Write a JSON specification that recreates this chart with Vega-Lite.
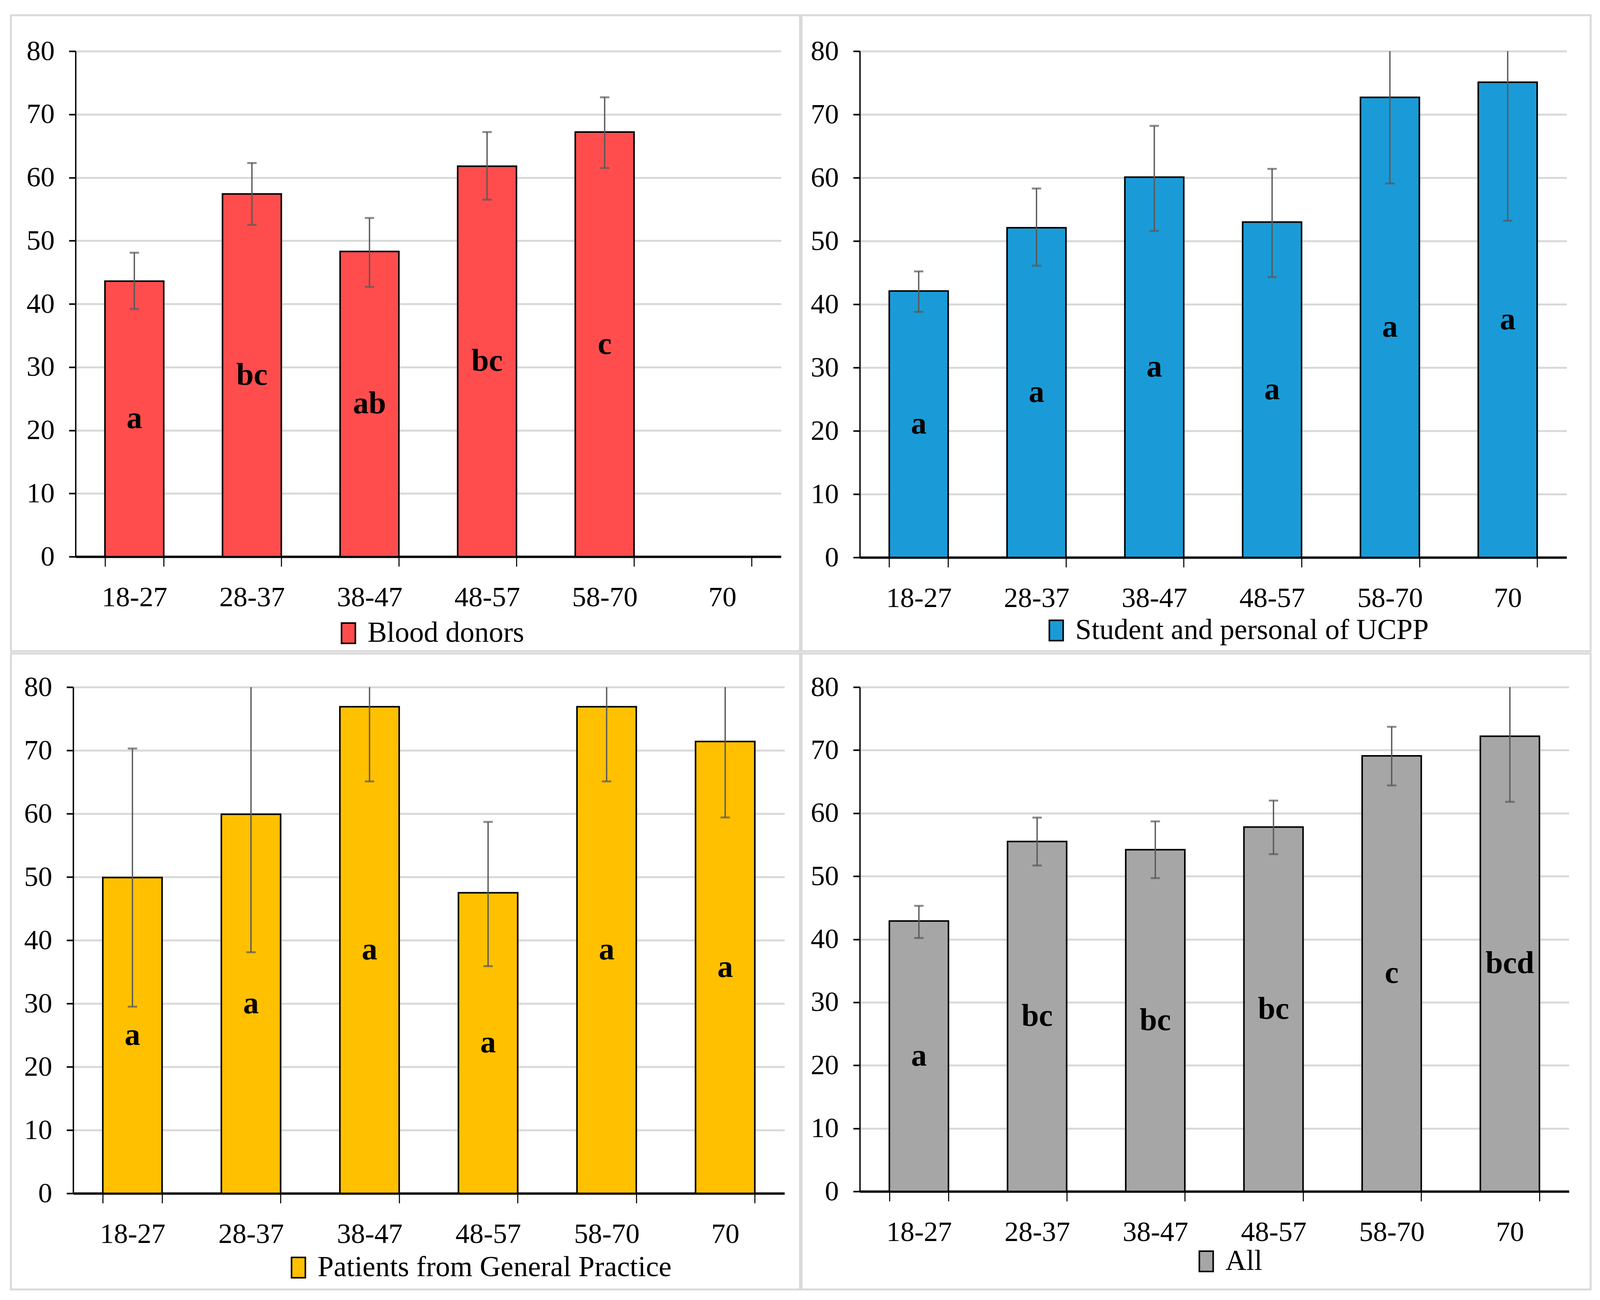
{
  "$schema": "https://vega.github.io/schema/vega-lite/v6.json",
  "background": "white",
  "padding": {"left": 25, "top": 36, "right": 0, "bottom": 0},
  "bounds": "flush",
  "spacing": {"row": 6, "column": 4},
  "columns": 2,
  "datasets": {
    "stats": [
      {"group": "Blood donors", "age": "18-27", "value": 43.6, "lo": 39.2, "hi": 48.1, "letter": "a"},
      {"group": "Blood donors", "age": "28-37", "value": 57.4, "lo": 52.5, "hi": 62.3, "letter": "bc"},
      {"group": "Blood donors", "age": "38-47", "value": 48.3, "lo": 42.7, "hi": 53.6, "letter": "ab"},
      {"group": "Blood donors", "age": "48-57", "value": 61.8, "lo": 56.5, "hi": 67.2, "letter": "bc"},
      {"group": "Blood donors", "age": "58-70", "value": 67.2, "lo": 61.5, "hi": 72.7, "letter": "c"},
      {"group": "Student and personal of UCPP", "age": "18-27", "value": 42.1, "lo": 38.8, "hi": 45.2, "letter": "a"},
      {"group": "Student and personal of UCPP", "age": "28-37", "value": 52.1, "lo": 46.1, "hi": 58.3, "letter": "a"},
      {"group": "Student and personal of UCPP", "age": "38-47", "value": 60.1, "lo": 51.6, "hi": 68.2, "letter": "a"},
      {"group": "Student and personal of UCPP", "age": "48-57", "value": 53.0, "lo": 44.3, "hi": 61.4, "letter": "a"},
      {"group": "Student and personal of UCPP", "age": "58-70", "value": 72.7, "lo": 59.1, "hi": 86.3, "letter": "a"},
      {"group": "Student and personal of UCPP", "age": "70", "value": 75.1, "lo": 53.2, "hi": 97.0, "letter": "a"},
      {"group": "Patients from General Practice", "age": "18-27", "value": 49.9, "lo": 29.5, "hi": 70.3, "letter": "a"},
      {"group": "Patients from General Practice", "age": "28-37", "value": 59.9, "lo": 38.1, "hi": 81.7, "letter": "a"},
      {"group": "Patients from General Practice", "age": "38-47", "value": 76.9, "lo": 65.1, "hi": 88.7, "letter": "a"},
      {"group": "Patients from General Practice", "age": "48-57", "value": 47.5, "lo": 35.9, "hi": 58.7, "letter": "a"},
      {"group": "Patients from General Practice", "age": "58-70", "value": 76.9, "lo": 65.1, "hi": 88.7, "letter": "a"},
      {"group": "Patients from General Practice", "age": "70", "value": 71.4, "lo": 59.4, "hi": 83.4, "letter": "a"},
      {"group": "All", "age": "18-27", "value": 42.9, "lo": 40.2, "hi": 45.3, "letter": "a"},
      {"group": "All", "age": "28-37", "value": 55.5, "lo": 51.7, "hi": 59.3, "letter": "bc"},
      {"group": "All", "age": "38-47", "value": 54.2, "lo": 49.7, "hi": 58.7, "letter": "bc"},
      {"group": "All", "age": "48-57", "value": 57.8, "lo": 53.5, "hi": 62.0, "letter": "bc"},
      {"group": "All", "age": "58-70", "value": 69.1, "lo": 64.4, "hi": 73.7, "letter": "c"},
      {"group": "All", "age": "70", "value": 72.2, "lo": 61.8, "hi": 82.6, "letter": "bcd"}
    ]
  },
  "data": {"name": "stats"},
  "concat": [
    {
      "width": 2020,
      "height": 1628,
      "transform": [{"filter": "datum.group == 'Blood donors'"}],
      "layer": [
        {
          "layer": [
            {
              "mark": {"type": "bar", "stroke": "black", "strokeWidth": 4},
              "encoding": {
                "x": {"field": "age", "type": "nominal", "sort": null,
                  "scale": {"domain": ["18-27", "28-37", "38-47", "48-57", "58-70", "70"], "range": [165.4, 1971.4], "paddingInner": 0.5, "paddingOuter": 0.25},
                  "axis": {"offset": -242}},
                "y": {"field": "value", "type": "quantitative",
                  "scale": {"domain": [0, 80], "range": [1386, 92], "nice": false, "clamp": true},
                  "axis": {"offset": -165.4, "values": [0, 10, 20, 30, 40, 50, 60, 70, 80]}},
                "color": {"datum": "Blood donors", "scale": {"range": ["#FF4D4D"]},
                  "legend": {"orient": "none", "legendX": 827, "legendY": 1545}}
              }
            },
            {
              "mark": {"type": "rule", "color": "#595959", "strokeWidth": 3.4},
              "encoding": {
                "x": {"field": "age", "type": "nominal"},
                "y": {"field": "lo", "type": "quantitative"},
                "y2": {"field": "hi"}
              }
            },
            {
              "mark": {"type": "tick", "color": "#595959", "thickness": 5, "size": 24},
              "encoding": {
                "x": {"field": "age", "type": "nominal"},
                "y": {"field": "lo", "type": "quantitative"}
              }
            },
            {
              "transform": [{"filter": "datum.hi <= 80"}],
              "mark": {"type": "tick", "color": "#595959", "thickness": 5, "size": 24},
              "encoding": {
                "x": {"field": "age", "type": "nominal"},
                "y": {"field": "hi", "type": "quantitative"}
              }
            }
          ]
        },
        {
          "mark": {"type": "text", "font": "Liberation Serif", "fontWeight": "bold", "fontSize": 80, "color": "black", "baseline": "middle"},
          "encoding": {
            "x": {"field": "age", "type": "nominal"},
            "y": {"field": "value", "type": "quantitative", "scale": {"domain": [0, 160], "range": [1386, 92], "nice": false}, "axis": null},
            "text": {"field": "letter"}
          }
        }
      ],
      "resolve": {"scale": {"y": "independent"}}
    },
    {
      "width": 2020,
      "height": 1628,
      "transform": [{"filter": "datum.group == 'Student and personal of UCPP'"}],
      "layer": [
        {
          "layer": [
            {
              "mark": {"type": "bar", "stroke": "black", "strokeWidth": 4},
              "encoding": {
                "x": {"field": "age", "type": "nominal", "sort": null,
                  "scale": {"domain": ["18-27", "28-37", "38-47", "48-57", "58-70", "70"], "range": [149.1, 1958.5], "paddingInner": 0.5, "paddingOuter": 0.25},
                  "axis": {"offset": -240}},
                "y": {"field": "value", "type": "quantitative",
                  "scale": {"domain": [0, 80], "range": [1388, 92], "nice": false, "clamp": true},
                  "axis": {"offset": -149.1, "values": [0, 10, 20, 30, 40, 50, 60, 70, 80]}},
                "color": {"datum": "Student and personal of UCPP", "scale": {"range": ["#1A9BD7"]},
                  "legend": {"orient": "none", "legendX": 615, "legendY": 1538}}
              }
            },
            {
              "mark": {"type": "rule", "color": "#595959", "strokeWidth": 3.4},
              "encoding": {
                "x": {"field": "age", "type": "nominal"},
                "y": {"field": "lo", "type": "quantitative"},
                "y2": {"field": "hi"}
              }
            },
            {
              "mark": {"type": "tick", "color": "#595959", "thickness": 5, "size": 24},
              "encoding": {
                "x": {"field": "age", "type": "nominal"},
                "y": {"field": "lo", "type": "quantitative"}
              }
            },
            {
              "transform": [{"filter": "datum.hi <= 80"}],
              "mark": {"type": "tick", "color": "#595959", "thickness": 5, "size": 24},
              "encoding": {
                "x": {"field": "age", "type": "nominal"},
                "y": {"field": "hi", "type": "quantitative"}
              }
            }
          ]
        },
        {
          "mark": {"type": "text", "font": "Liberation Serif", "fontWeight": "bold", "fontSize": 80, "color": "black", "baseline": "middle"},
          "encoding": {
            "x": {"field": "age", "type": "nominal"},
            "y": {"field": "value", "type": "quantitative", "scale": {"domain": [0, 160], "range": [1388, 92], "nice": false}, "axis": null},
            "text": {"field": "letter"}
          }
        }
      ],
      "resolve": {"scale": {"y": "independent"}}
    },
    {
      "width": 2020,
      "height": 1628,
      "transform": [{"filter": "datum.group == 'Patients from General Practice'"}],
      "layer": [
        {
          "layer": [
            {
              "mark": {"type": "bar", "stroke": "black", "strokeWidth": 4},
              "encoding": {
                "x": {"field": "age", "type": "nominal", "sort": null,
                  "scale": {"domain": ["18-27", "28-37", "38-47", "48-57", "58-70", "70"], "range": [159.3, 1980.2], "paddingInner": 0.5, "paddingOuter": 0.25},
                  "axis": {"offset": -246}},
                "y": {"field": "value", "type": "quantitative",
                  "scale": {"domain": [0, 80], "range": [1382, 86], "nice": false, "clamp": true},
                  "axis": {"offset": -159.3, "values": [0, 10, 20, 30, 40, 50, 60, 70, 80]}},
                "color": {"datum": "Patients from General Practice", "scale": {"range": ["#FFC000"]},
                  "legend": {"orient": "none", "legendX": 699, "legendY": 1535}}
              }
            },
            {
              "mark": {"type": "rule", "color": "#595959", "strokeWidth": 3.4},
              "encoding": {
                "x": {"field": "age", "type": "nominal"},
                "y": {"field": "lo", "type": "quantitative"},
                "y2": {"field": "hi"}
              }
            },
            {
              "mark": {"type": "tick", "color": "#595959", "thickness": 5, "size": 24},
              "encoding": {
                "x": {"field": "age", "type": "nominal"},
                "y": {"field": "lo", "type": "quantitative"}
              }
            },
            {
              "transform": [{"filter": "datum.hi <= 80"}],
              "mark": {"type": "tick", "color": "#595959", "thickness": 5, "size": 24},
              "encoding": {
                "x": {"field": "age", "type": "nominal"},
                "y": {"field": "hi", "type": "quantitative"}
              }
            }
          ]
        },
        {
          "mark": {"type": "text", "font": "Liberation Serif", "fontWeight": "bold", "fontSize": 80, "color": "black", "baseline": "middle"},
          "encoding": {
            "x": {"field": "age", "type": "nominal"},
            "y": {"field": "value", "type": "quantitative", "scale": {"domain": [0, 160], "range": [1382, 86], "nice": false}, "axis": null},
            "text": {"field": "letter"}
          }
        }
      ],
      "resolve": {"scale": {"y": "independent"}}
    },
    {
      "width": 2020,
      "height": 1628,
      "transform": [{"filter": "datum.group == 'All'"}],
      "layer": [
        {
          "layer": [
            {
              "mark": {"type": "bar", "stroke": "black", "strokeWidth": 4},
              "encoding": {
                "x": {"field": "age", "type": "nominal", "sort": null,
                  "scale": {"domain": ["18-27", "28-37", "38-47", "48-57", "58-70", "70"], "range": [149.1, 1964.6], "paddingInner": 0.5, "paddingOuter": 0.25},
                  "axis": {"offset": -251}},
                "y": {"field": "value", "type": "quantitative",
                  "scale": {"domain": [0, 80], "range": [1377, 86], "nice": false, "clamp": true},
                  "axis": {"offset": -149.1, "values": [0, 10, 20, 30, 40, 50, 60, 70, 80]}},
                "color": {"datum": "All", "scale": {"range": ["#A6A6A6"]},
                  "legend": {"orient": "none", "legendX": 999, "legendY": 1519}}
              }
            },
            {
              "mark": {"type": "rule", "color": "#595959", "strokeWidth": 3.4},
              "encoding": {
                "x": {"field": "age", "type": "nominal"},
                "y": {"field": "lo", "type": "quantitative"},
                "y2": {"field": "hi"}
              }
            },
            {
              "mark": {"type": "tick", "color": "#595959", "thickness": 5, "size": 24},
              "encoding": {
                "x": {"field": "age", "type": "nominal"},
                "y": {"field": "lo", "type": "quantitative"}
              }
            },
            {
              "transform": [{"filter": "datum.hi <= 80"}],
              "mark": {"type": "tick", "color": "#595959", "thickness": 5, "size": 24},
              "encoding": {
                "x": {"field": "age", "type": "nominal"},
                "y": {"field": "hi", "type": "quantitative"}
              }
            }
          ]
        },
        {
          "mark": {"type": "text", "font": "Liberation Serif", "fontWeight": "bold", "fontSize": 80, "color": "black", "baseline": "middle"},
          "encoding": {
            "x": {"field": "age", "type": "nominal"},
            "y": {"field": "value", "type": "quantitative", "scale": {"domain": [0, 160], "range": [1377, 86], "nice": false}, "axis": null},
            "text": {"field": "letter"}
          }
        }
      ],
      "resolve": {"scale": {"y": "independent"}}
    }
  ],
  "resolve": {
    "scale": {"x": "independent", "y": "independent", "color": "independent"},
    "legend": {"color": "independent"}
  },
  "config": {
    "view": {"stroke": "#D9D9D9", "strokeWidth": 5},
    "axisX": {
      "title": null, "grid": false, "tickBand": "extent", "labelAngle": 0, "labelLimit": 0,
      "domainColor": "black", "domainWidth": 6,
      "tickColor": "black", "tickWidth": 2.7, "tickSize": 25,
      "labelFont": "Liberation Serif", "labelFontSize": 72, "labelColor": "black",
      "labelPadding": 101, "labelBaseline": "alphabetic"
    },
    "axisY": {
      "title": null, "grid": true, "gridColor": "#D9D9D9", "gridWidth": 5,
      "domainColor": "black", "domainWidth": 3.5, "labelLimit": 0,
      "tickColor": "black", "tickWidth": 4, "tickSize": 17,
      "labelFont": "Liberation Serif", "labelFontSize": 72, "labelColor": "black",
      "labelPadding": 37
    },
    "legend": {
      "title": null, "symbolType": "M-0.68,-1H0.68V1H-0.68Z", "symbolSize": 2704,
      "symbolStrokeColor": "black", "symbolStrokeWidth": 4, "labelLimit": 0,
      "labelFont": "Liberation Serif", "labelFontSize": 74, "labelColor": "black",
      "labelOffset": 12, "padding": 0
    }
  }
}
